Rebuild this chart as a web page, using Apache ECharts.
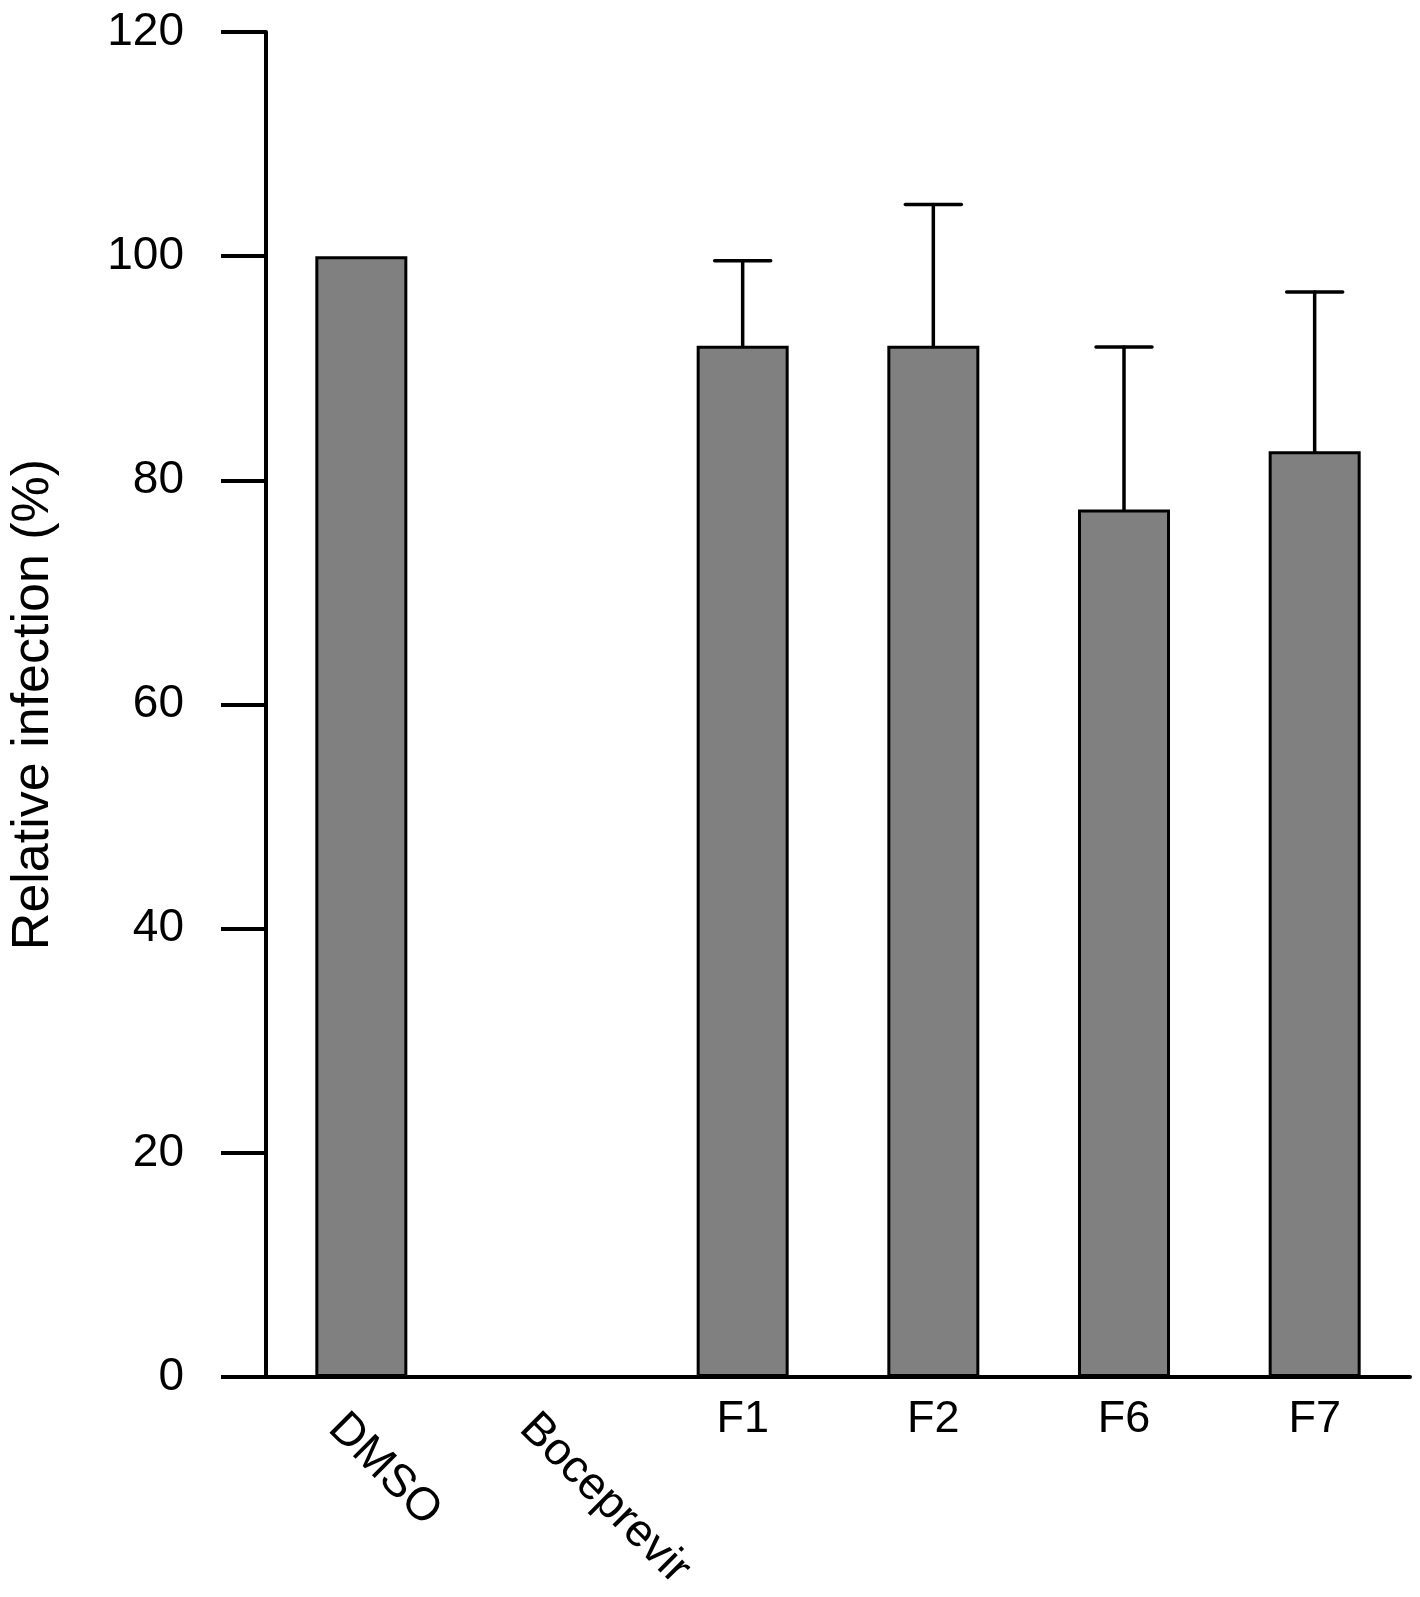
<!DOCTYPE html>
<html>
<head>
<meta charset="utf-8">
<script src="https://cdn.jsdelivr.net/npm/echarts@6/dist/echarts.min.js"></script>
<style>
  html, body { margin: 0; padding: 0; background: #fff; }
  #main { width: 1420px; height: 1597px; }
</style>
</head>
<body>
<div id="main"></div>
<script>
// data
var categories = ['DMSO', 'Boceprevir', 'F1', 'F2', 'F6', 'F7'];
var means = [100, 0.1, 92.0, 92.0, 77.4, 82.6];
var errors = [0, 0, 7.6, 12.6, 14.5, 14.2];
var yTicks = [0, 20, 40, 60, 80, 100, 120];

var font = 'Liberation Sans, Arial, sans-serif';
var myChart = echarts.init(document.getElementById('main'));

var option = {
    animation: false,
    backgroundColor: '#fff',
    grid: [
        { left: 262, right: 10, top: 32, bottom: 220 },
        // same size, nudged left: only carries the two slanted labels
        { left: 240, right: 32, top: 32, bottom: 220 }
    ],
    xAxis: [
        {
            type: 'category',
            gridIndex: 0,
            data: categories,
            axisLine: { lineStyle: { color: '#000', width: 4 } },
            axisTick: { show: false },
            axisLabel: {
                color: '#000',
                fontFamily: font,
                fontSize: 45,
                margin: 20,
                interval: 0,
                formatter: function (v, i) { return i < 2 ? '' : v; }
            }
        },
        {
            type: 'category',
            gridIndex: 1,
            data: categories,
            axisLine: { show: false },
            axisTick: { show: false },
            axisLabel: {
                color: '#000',
                fontFamily: font,
                fontSize: 46,
                margin: 44,
                rotate: -45,
                interval: 0,
                formatter: function (v, i) { return i < 2 ? v : ''; }
            }
        }
    ],
    yAxis: [
        {
            type: 'value',
            gridIndex: 0,
            min: yTicks[0],
            max: yTicks[yTicks.length - 1],
            interval: 20,
            name: 'Relative infection (%)',
            nameLocation: 'middle',
            nameGap: 206,
            nameTextStyle: { color: '#000', fontFamily: font, fontSize: 52 },
            axisLine: { show: true, lineStyle: { color: '#000', width: 4 } },
            axisTick: { show: true, length: 45, lineStyle: { color: '#000', width: 4 } },
            axisLabel: { color: '#000', fontFamily: font, fontSize: 46, margin: 82 },
            splitLine: { show: false }
        },
        {
            type: 'value',
            gridIndex: 1,
            min: 0,
            max: 120,
            show: false
        }
    ],
    series: [
        {
            name: 'Relative infection',
            type: 'bar',
            xAxisIndex: 0,
            yAxisIndex: 0,
            data: means,
            barWidth: 92,
            itemStyle: { color: '#808080', borderColor: '#000', borderWidth: 3 },
            z: 2
        },
        {
            name: 'SD',
            type: 'custom',
            xAxisIndex: 0,
            yAxisIndex: 0,
            data: means.map(function (m, i) { return [i, m, m + errors[i]]; }),
            z: 3,
            renderItem: function (params, api) {
                var i = api.value(0);
                if (errors[i] <= 0) return;
                var lo = api.coord([i, api.value(1)]);
                var hi = api.coord([i, api.value(2)]);
                var half = 28;
                var st = { stroke: '#000', lineWidth: 3.5, lineCap: 'round' };
                return {
                    type: 'group',
                    children: [
                        { type: 'line', shape: { x1: lo[0], y1: lo[1], x2: hi[0], y2: hi[1] }, style: st },
                        { type: 'line', shape: { x1: hi[0] - half, y1: hi[1], x2: hi[0] + half, y2: hi[1] }, style: st }
                    ]
                };
            }
        }
    ]
};

myChart.setOption(option);
</script>
</body>
</html>
